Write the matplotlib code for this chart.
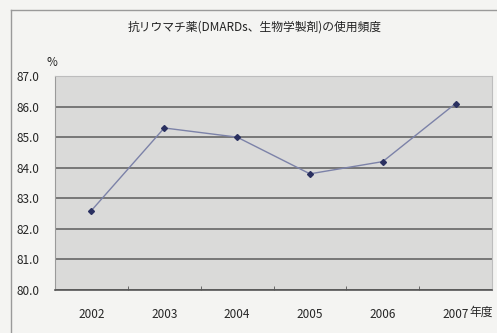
import matplotlib as mpl
import matplotlib.pyplot as plt
from matplotlib.lines import Line2D

plt.rcParams['font.family'] = ['Noto Sans CJK JP', 'DejaVu Sans']

# data
years = ['2002', '2003', '2004', '2005', '2006', '2007']
usage = [82.6, 85.3, 85.0, 83.8, 84.2, 86.1]
y_ticks = [80.0, 81.0, 82.0, 83.0, 84.0, 85.0, 86.0, 87.0]
title = '抗リウマチ薬(DMARDs、生物学製剤)の使用頻度'

W, H = 497, 333
fig = plt.figure(figsize=(W / 100, H / 100), dpi=100)
fig.patch.set_facecolor('#f4f4f2')

# outer frame of the chart box
fig.add_artist(Line2D([11 / W, 11 / W], [0, 1 - 10 / H], color='#9a9a9a', lw=1.0))
fig.add_artist(Line2D([11 / W, 1], [1 - 10 / H, 1 - 10 / H], color='#9a9a9a', lw=1.0))

ax = fig.add_axes([55 / W, 1 - 290 / H, 437 / W, 214 / H])
ax.set_facecolor('#dadad9')

x = range(len(years))
ax.plot(x, usage, color='#7c82a8', lw=1.0, marker='D', markersize=3,
        markerfacecolor='#2a3060', markeredgecolor='#2a3060', zorder=3)

fs = 8.5
ax.set_xlim(-0.5, len(years) - 0.5)
ax.set_ylim(80, 87)
ax.set_yticks(y_ticks)
ax.set_yticklabels([f'{v:.1f}' for v in y_ticks], fontsize=fs, color='#262626')
ax.set_xticks(list(x))
ax.set_xticklabels(years, fontsize=fs, color='#262626')
ax.set_xticks([i + 0.5 for i in range(len(years) - 1)], minor=True)
ax.tick_params(axis='x', which='major', length=0, pad=13)
ax.tick_params(axis='x', which='minor', direction='in', length=3, color='#555555')
ax.tick_params(axis='y', length=0, pad=11)

ax.grid(axis='y', color='#666666', lw=1.2)
ax.set_axisbelow(True)
for side in ['top', 'right']:
    ax.spines[side].set_color('#bdbdbd')
    ax.spines[side].set_linewidth(0.8)
ax.spines['left'].set_color('#9a9a9a')
ax.spines['bottom'].set_color('#555555')
ax.spines['bottom'].set_linewidth(1.2)

fig.text(255 / W, 1 - 27 / H, title, ha='center', va='center', fontsize=fs, color='#222222')
fig.text(52 / W, 1 - 63 / H, '%', ha='center', va='center', fontsize=fs, color='#262626')
fig.text(469 / W, 1 - 312 / H, '年度', ha='left', va='center', fontsize=fs, color='#262626')

fig.savefig('out.png', dpi=100, facecolor=fig.get_facecolor())
